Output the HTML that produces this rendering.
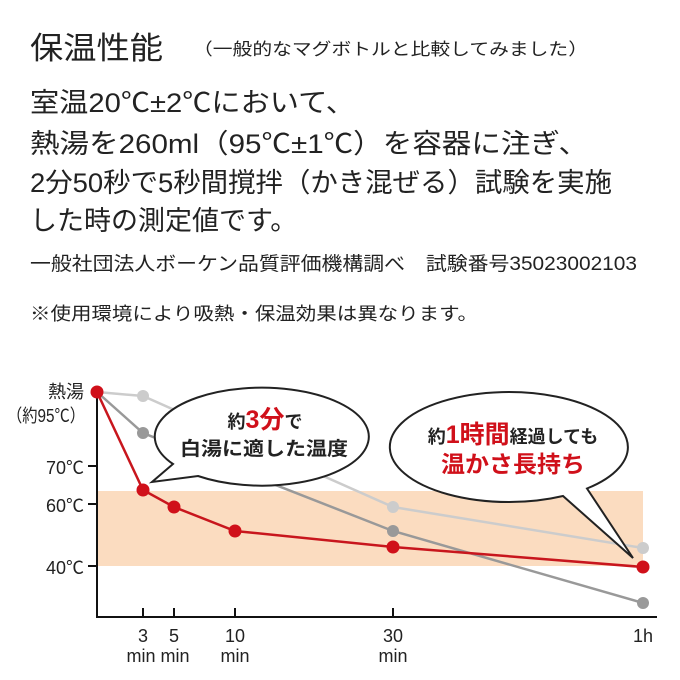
<!DOCTYPE html>
<html><head><meta charset="utf-8"><style>
html,body{margin:0;padding:0;background:#fff}
svg{display:block}
text{font-family:"Liberation Sans","Noto Sans CJK JP",sans-serif;fill:#222}
</style></head><body>
<svg width="680" height="680" viewBox="0 0 680 680" xmlns="http://www.w3.org/2000/svg">
<text x="30" y="59" font-size="31" textLength="133" lengthAdjust="spacingAndGlyphs">保温性能</text>
<text x="193" y="55" font-size="17" textLength="395" lengthAdjust="spacingAndGlyphs">（一般的なマグボトルと比較してみました）</text>
<text x="30" y="112" font-size="27" textLength="325" lengthAdjust="spacingAndGlyphs">室温20℃±2℃において、</text>
<text x="30" y="153" font-size="27" textLength="558" lengthAdjust="spacingAndGlyphs">熱湯を260ml（95℃±1℃）を容器に注ぎ、</text>
<text x="30" y="192" font-size="27" textLength="582" lengthAdjust="spacingAndGlyphs">2分50秒で5秒間撹拌（かき混ぜる）試験を実施</text>
<text x="30" y="230" font-size="27">した時の測定値です。</text>
<text x="30" y="270" font-size="19" textLength="607" lengthAdjust="spacingAndGlyphs">一般社団法人ボーケン品質評価機構調べ　試験番号35023002103</text>
<text x="30" y="320" font-size="18" textLength="448" lengthAdjust="spacingAndGlyphs">※使用環境により吸熱・保温効果は異なります。</text>

<rect x="97" y="491" width="546" height="75" fill="#fbdcc0"/>
<line x1="97" y1="392" x2="97" y2="617" stroke="#111" stroke-width="2"/>
<line x1="96" y1="617" x2="657" y2="617" stroke="#111" stroke-width="2"/>
<g stroke="#111" stroke-width="2">
<line x1="88" y1="466" x2="97" y2="466"/><line x1="88" y1="504" x2="97" y2="504"/><line x1="88" y1="566" x2="97" y2="566"/>
<line x1="143" y1="608" x2="143" y2="617"/><line x1="174" y1="608" x2="174" y2="617"/><line x1="235" y1="608" x2="235" y2="617"/><line x1="393" y1="608" x2="393" y2="617"/>
</g>
<g font-size="18" text-anchor="end">
<text x="84" y="398">熱湯</text>
<text x="85" y="422" textLength="78" lengthAdjust="spacingAndGlyphs">（約95℃）</text>
<text x="84" y="474">70℃</text>
<text x="84" y="512">60℃</text>
<text x="84" y="574">40℃</text>
</g>
<g font-size="18" text-anchor="middle">
<text x="143" y="642">3</text><text x="174" y="642">5</text><text x="235" y="642">10</text><text x="393" y="642">30</text><text x="643" y="642">1h</text>
<text x="141" y="662">min</text><text x="175" y="662">min</text><text x="235" y="662">min</text><text x="393" y="662">min</text>
</g>

<polyline points="97,392 143,396 393,507 643,548" fill="none" stroke="#ccc" stroke-width="2.5"/>
<polyline points="97,392 143,433 393,531 643,603" fill="none" stroke="#999" stroke-width="2.5"/>
<g fill="#ccc"><circle cx="143" cy="396" r="6"/><circle cx="393" cy="507" r="6"/><circle cx="643" cy="548" r="6"/></g>
<g fill="#999"><circle cx="143" cy="433" r="6"/><circle cx="393" cy="531" r="6"/><circle cx="643" cy="603" r="6"/></g>

<path d="M198,476 A107,49 0 1 0 173,464 L152,482 Z" fill="#fff" stroke="#222" stroke-width="2" stroke-linejoin="miter"/>
<path d="M563,496 A119,55 0 1 1 587,488.5 L633,558 Z" fill="#fff" stroke="#222" stroke-width="2" stroke-linejoin="miter"/>

<polyline points="97,392 143,490 174,507 235,531 393,547 643,567" fill="none" stroke="#c8161d" stroke-width="2.5"/>
<g fill="#d0101a"><circle cx="97" cy="392" r="6.5"/><circle cx="143" cy="490" r="6.5"/><circle cx="174" cy="507" r="6.5"/><circle cx="235" cy="531" r="6.5"/><circle cx="393" cy="547" r="6.5"/><circle cx="643" cy="567" r="6.5"/></g>

<text x="265" y="428" font-size="18" text-anchor="middle" font-weight="bold">約<tspan font-size="25" style="fill:#d0101a">3分</tspan>で</text>
<text x="264" y="455" font-size="19" text-anchor="middle" font-weight="bold" textLength="168" lengthAdjust="spacingAndGlyphs">白湯に適した温度</text>
<text x="513" y="443" font-size="18" text-anchor="middle" font-weight="bold">約<tspan font-size="25" style="fill:#d0101a">1時間</tspan>経過しても</text>
<text x="513" y="472" font-size="23" text-anchor="middle" font-weight="bold" style="fill:#d0101a" textLength="144" lengthAdjust="spacingAndGlyphs">温かさ長持ち</text>
</svg>
</body></html>
